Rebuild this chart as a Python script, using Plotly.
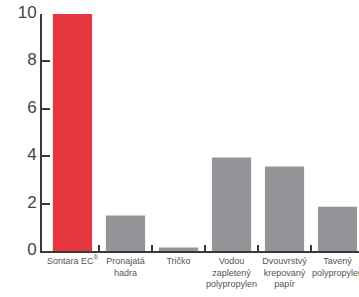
import plotly.graph_objects as go

categories = ["Sontara EC<sup>®</sup>", "Pronajatá<br>hadra", "Tričko",
              "Vodou<br>zapletený<br>polypropylen", "Dvouvrstvý<br>krepovaný<br>papír",
              "Tavený<br>polypropylen"]
values = [10, 1.5, 0.15, 3.95, 3.57, 1.87]
colors = ["#E63740", "#939598", "#939598", "#939598", "#939598", "#939598"]
y_ticks = [0, 2, 4, 6, 8, 10]
boundaries = [0.5, 1.5, 2.5, 3.5, 4.5]

x_idx = list(range(len(categories)))
xr = [-0.575, 5.405]

fig = go.Figure()
fig.add_trace(go.Bar(x=x_idx, y=values, marker=dict(color=colors, line=dict(width=0)),
                     width=0.74, showlegend=False))
fig.add_trace(go.Scatter(x=boundaries, y=[0]*len(boundaries), xaxis="x2", mode="markers",
                         marker=dict(opacity=0), showlegend=False, hoverinfo="skip"))

fig.update_layout(
    width=359, height=297,
    margin=dict(l=42, r=0, t=14, b=46),
    paper_bgcolor="white", plot_bgcolor="white",
    font=dict(family="Liberation Sans, Arial, sans-serif", color="#555555"),
    xaxis=dict(range=xr, tickvals=x_idx, ticktext=categories, ticks="",
               tickangle=0, automargin=False, ticklabeloverflow="allow",
               showline=True, linecolor="#3a3a3a", linewidth=2,
               showgrid=False, zeroline=False,
               tickfont=dict(size=9, color="#555555")),
    xaxis2=dict(range=xr, overlaying="x", anchor="y", side="bottom",
                tickvals=boundaries, ticks="inside", ticklen=6, tickwidth=2,
                tickcolor="#3a3a3a", showticklabels=False, showgrid=False,
                zeroline=False, showline=False, automargin=False),
    yaxis=dict(range=[0, 10], tickvals=y_ticks, ticks="inside", ticklen=8,
               tickwidth=2, tickcolor="#3a3a3a", showline=True, automargin=False,
               ticklabeloverflow="allow", ticklabelshift=-2,
               linecolor="#3a3a3a", linewidth=2, showgrid=False, zeroline=False,
               tickfont=dict(size=17, color="#444444")),
)

fig.write_html("out.html", config={"displayModeBar": False},
               post_script="document.body.style.margin='0';document.body.style.overflow='hidden';")
